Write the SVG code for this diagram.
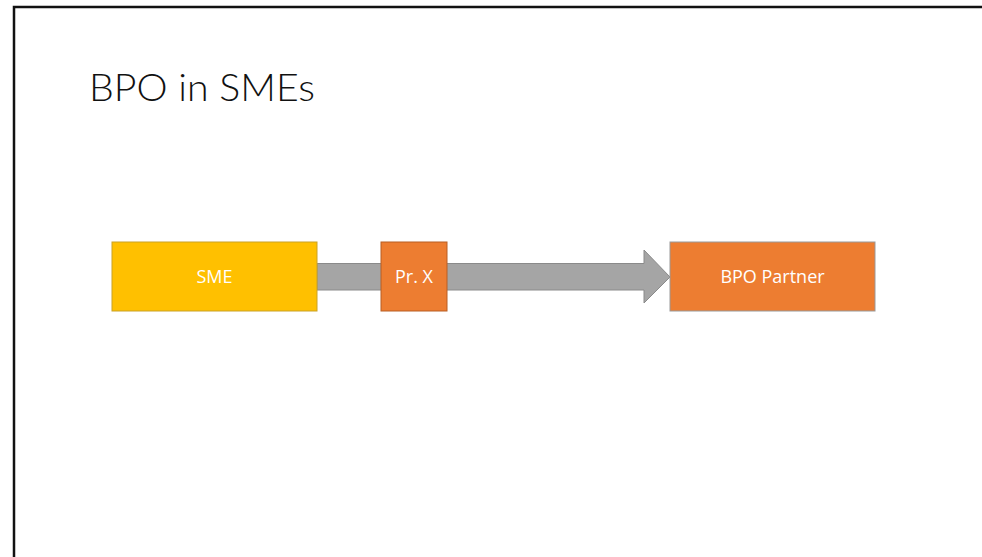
<svg xmlns="http://www.w3.org/2000/svg" width="982" height="557" viewBox="0 0 982 557">
<style>
.lbl{font-family:"Open Sans","Liberation Sans",sans-serif;font-size:18px;fill:#fff;text-anchor:middle}
.title{font-family:Lato,"Open Sans","Liberation Sans",sans-serif;font-weight:300;font-size:38px;fill:#111}
</style>
<rect x="0" y="0" width="982" height="557" fill="#fff"/>
<path d="M14 557 V7 H982" fill="none" stroke="#111" stroke-width="2.5"/>
<text class="title" x="89" y="101" textLength="226" lengthAdjust="spacingAndGlyphs">BPO in SMEs</text>
<g id="connectors">
<path d="M317 263.5 H644 V250 L670 277 L644 303 V290 H317 Z" fill="#A5A5A5" stroke="#8a8a8a" stroke-width="1"/>
</g>
<g id="sme">
<rect x="112" y="242" width="205" height="69" fill="#FFC000" stroke="#C9A227" stroke-width="1"/>
<text class="lbl" x="214.5" y="283">SME</text>
</g>
<g id="prx">
<rect x="381" y="242" width="66" height="69" fill="#ED7D31" stroke="#B85F24" stroke-width="1"/>
<text class="lbl" x="414" y="283">Pr. X</text>
</g>
<g id="bpo">
<rect x="670" y="242" width="205" height="69" fill="#ED7D31" stroke="#999" stroke-width="1"/>
<text class="lbl" x="772.5" y="283">BPO Partner</text>
</g>
</svg>
